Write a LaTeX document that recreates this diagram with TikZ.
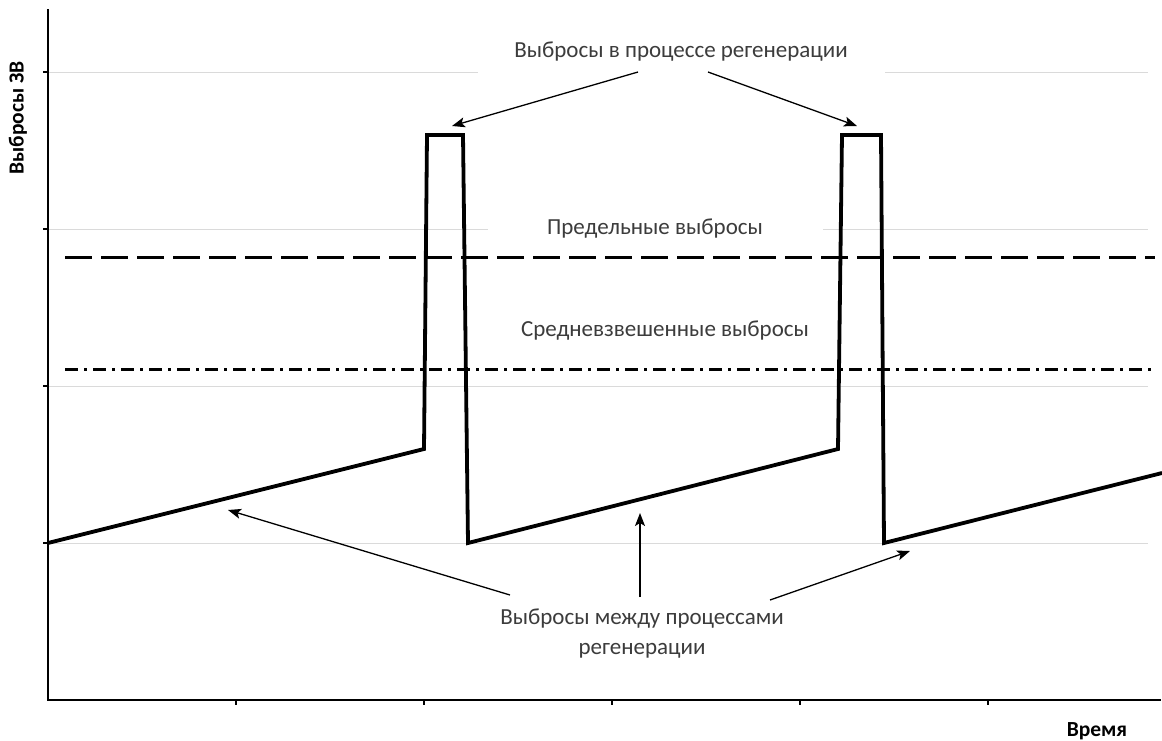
\documentclass[tikz,border=0pt]{standalone}
\usepackage{fontspec}
\setmainfont{Carlito}
\usetikzlibrary{positioning,arrows.meta}
\definecolor{gridgray}{HTML}{DADADA}
\definecolor{labelgray}{HTML}{3C3C3C}

\tikzset{
    gridline/.style={draw=gridgray, line width=1pt},
    axis/.style={line width=2.6pt, line cap=rect},
    curve/.style={line width=3.8pt, line join=miter},
    limit/.style={line width=3pt, dash pattern=on 27pt off 9pt},
    average/.style={line width=3pt, dash pattern=on 13pt off 6pt on 3pt off 6pt},
    pointer/.style={line width=1.3pt, -{Stealth[length=13pt,width=10pt,inset=3pt]}},
    caption/.style={text=labelgray, font=\fontsize{23}{30}\selectfont, fill=white, inner sep=0pt},
    axislabel/.style={font=\bfseries\fontsize{21.5}{24}\selectfont},
}

\begin{document}
\begin{tikzpicture}[x=1pt, y=-1pt]
    \useasboundingbox (0,0) rectangle (1162,740);
    \foreach \y in {72,229,386,543}
        \draw[gridline] (48,\y) -- (1148,\y);

    \coordinate (o) at (48,700);
    \coordinate (ytop) at (48,10);
    \coordinate (xend) at (1160,700);
    \draw[axis] (ytop) -- (o) -- (xend);
    \foreach \y in {72,229,386,543}
        \draw[line width=2pt] (43,\y) -- (48,\y);
    \foreach \x in {236,424,612,800,988}
        \draw[line width=2pt] (\x,700) -- (\x,705);

    \draw[limit] (65,257) -- (1155,257);
    \draw[average] (65,369) -- (1152,369);

    \coordinate (s0) at (48,543);
    \coordinate (s1) at (424,449);
    \coordinate (s2) at (427,135);
    \coordinate (s3) at (463,135);
    \coordinate (s4) at (468,543);
    \coordinate (s5) at (838,449);
    \coordinate (s6) at (842,135);
    \coordinate (s7) at (881,135);
    \coordinate (s8) at (884,543);
    \coordinate (s9) at (1162,473);
    \draw[curve] (s0) -- (s1) -- (s2) -- (s3) -- (s4) -- (s5) -- (s6) -- (s7) -- (s8) -- (s9);

    \node[caption, minimum width=407pt, minimum height=46pt] (regen) at (681,52) {Выбросы в процессе регенерации};
    \node[caption, minimum width=335pt] (lim) at (655,229) {Предельные выбросы};
    \node[caption, below=102pt of lim.center, anchor=center, xshift=10pt] (avg) {Средневзвешенные выбросы};
    \node[caption, align=center] (between) at (642,634) {Выбросы между процессами\\регенерации};

    \coordinate (p1) at (452,126);
    \coordinate (p2) at (857,126);
    \coordinate (q1) at (228,510);
    \coordinate (q2) at (640,513);
    \coordinate (q3) at (910,551);
    \draw[pointer] (638,72) -- (p1);
    \draw[pointer] (708,72) -- (p2);
    \draw[pointer] (510,595) -- (q1);
    \draw[pointer] (640,597) -- (q2);
    \draw[pointer] (770,600) -- (q3);

    \node[axislabel, rotate=90] (ylab) at (18,118) {Выбросы ЗВ};
    \node[axislabel] (xlab) at (1097,731) {Время};
\end{tikzpicture}
\end{document}
